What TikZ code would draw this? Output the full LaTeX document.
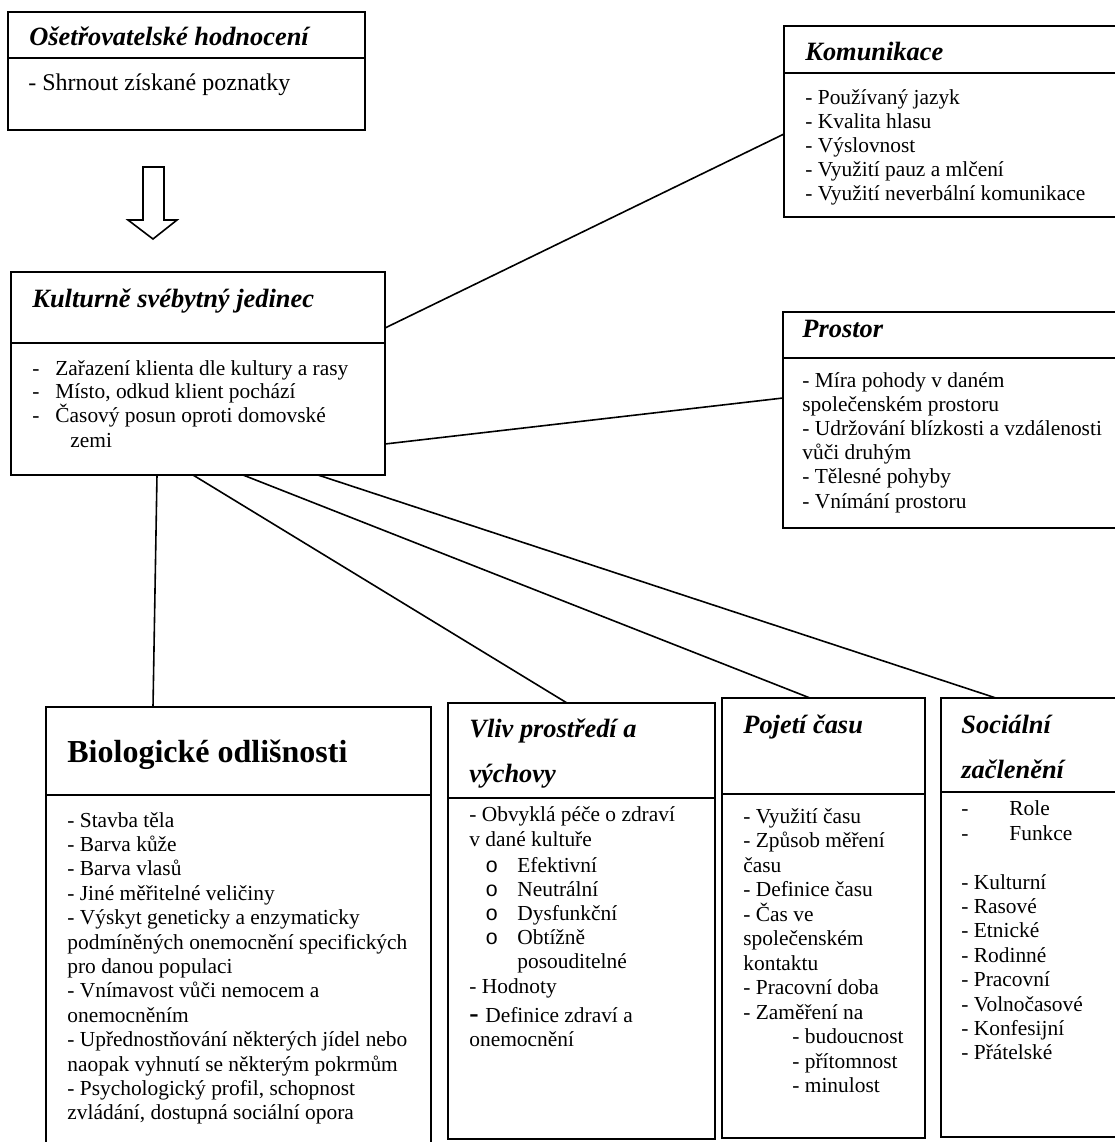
\documentclass[tikz,border=0pt]{standalone}
\usepackage{fontspec}
\setmainfont{Liberation Serif}
\newfontfamily\bulletfont{Liberation Mono}
\usetikzlibrary{calc}
\tikzset{
  box/.style={draw, line width=0.9pt, rectangle, anchor=north west, inner sep=0pt, outer sep=0pt},
  divider/.style={line width=0.9pt},
  txt/.style={anchor=base west, inner sep=0pt, font=\fontsize{10.7}{13}\selectfont},
  ttl/.style={anchor=base west, inner sep=0pt, font=\fontsize{13.2}{15}\selectfont\bfseries\itshape},
  bigttl/.style={anchor=base west, inner sep=0pt, font=\fontsize{16}{18}\selectfont\bfseries},
  link/.style={line width=0.8pt},
  blockarrow/.style={line width=0.8pt, line join=miter},
}
\begin{document}
\begin{tikzpicture}[x=0.5pt,y=-0.5pt]
\useasboundingbox (0,0) rectangle (1115,1142);
\clip (0,0) rectangle (1115,1142);

% ---------- boxes ----------
\node[box, minimum width=178.5pt, minimum height=59pt]  (oset) at (8,12) {};
\node[box, minimum width=175pt,   minimum height=95.5pt] (komu) at (784,26) {};
\node[box, minimum width=187pt,   minimum height=101.5pt] (kult) at (11,272) {};
\node[box, minimum width=175pt,   minimum height=108pt]  (pros) at (783,312) {};
\node[box, minimum width=192.5pt, minimum height=230pt]  (bio)  at (46,707) {};
\node[box, minimum width=133.5pt, minimum height=218pt]  (vliv) at (448,703) {};
\node[box, minimum width=101.5pt, minimum height=220pt]  (poj)  at (722,698) {};
\node[box, minimum width=95pt,    minimum height=219.5pt] (soc) at (941,698) {};

% ---------- dividers ----------
\draw[divider] (8,58) -- (365,58);
\draw[divider] (784,73) -- (1134,73);
\draw[divider] (11,343) -- (385,343);
\draw[divider] (783,358) -- (1133,358);
\draw[divider] (46,795) -- (431,795);
\draw[divider] (448,798) -- (715,798);
\draw[divider] (722,794) -- (925,794);
\draw[divider] (941,792) -- (1131,792);

% ---------- block arrow ----------
\draw[blockarrow] (143,167) -- (164,167) -- (164,220) -- (177,220) -- (153,239)
  -- (128,220) -- (143,220) -- cycle;

% ---------- connectors ----------
\draw[link] ($(kult.north west)+(374,56)$) -- ($(komu.north west)+(0,108)$);
\draw[link] ($(kult.north west)+(374,172)$) -- ($(pros.north west)+(0,86)$);
\draw[link] ($(kult.south west)+(146,0)$) -- ($(bio.north west)+(107,0)$);
\draw[link] ($(kult.south west)+(182,0)$) -- ($(vliv.north west)+(119,0)$);
\draw[link] ($(kult.south west)+(232,0)$) -- ($(poj.north west)+(88,0)$);
\draw[link] ($(kult.south west)+(307,0)$) -- ($(soc.north west)+(55,0)$);

% ---------- Ošetřovatelské hodnocení ----------
\node[ttl] (oset-t) at (29,45) {Ošetřovatelské hodnocení};
\node[txt, font=\fontsize{12}{14}\selectfont] (oset-1) at (28,90) {- Shrnout získané poznatky};

% ---------- Komunikace ----------
\node[ttl] (komu-t) at (805,60) {Komunikace};
\foreach \t [count=\i] in {{- Používaný jazyk},{- Kvalita hlasu},{- Výslovnost},
  {- Využití pauz a mlčení},{- Využití neverbální komunikace}}
  \node[txt] (komu-\i) at (805,{104+24.2*(\i-1)}) {\t};

% ---------- Kulturně svébytný jedinec ----------
\node[ttl] (kult-t) at (32,307) {Kulturně svébytný jedinec};
\foreach \t [count=\i] in {{Zařazení klienta dle kultury a rasy},{Místo, odkud klient pochází},
  {Časový posun oproti domovské}}
  {\node[txt] (kult-d\i) at (32,{375+23.5*(\i-1)}) {-};
   \node[txt] (kult-\i) at (55,{375+23.5*(\i-1)}) {\t};}
\node[txt] (kult-4) at (70,447) {zemi};

% ---------- Prostor ----------
\node[ttl] (pros-t) at (802,337) {Prostor};
\foreach \t [count=\i] in {{- Míra pohody v daném},{společenském prostoru},
  {- Udržování blízkosti a vzdálenosti},{vůči druhým},{- Tělesné pohyby},{- Vnímání prostoru}}
  \node[txt] (pros-\i) at (802,{387+24.2*(\i-1)}) {\t};

% ---------- Biologické odlišnosti ----------
\node[bigttl] (bio-t) at (67,762) {Biologické odlišnosti};
\foreach \t [count=\i] in {{- Stavba těla},{- Barva kůže},{- Barva vlasů},{- Jiné měřitelné veličiny},
  {- Výskyt geneticky a enzymaticky},{podmíněných onemocnění specifických},{pro danou populaci},
  {- Vnímavost vůči nemocem a},{onemocněním},{- Upřednostňování některých jídel nebo},
  {naopak vyhnutí se některým pokrmům},{- Psychologický profil, schopnost},
  {zvládání, dostupná sociální opora}}
  \node[txt] (bio-\i) at (67,{827+24.4*(\i-1)}) {\t};

% ---------- Vliv prostředí a výchovy ----------
\node[ttl] (vliv-t1) at (469,737) {Vliv prostředí a};
\node[ttl] (vliv-t2) at (469,782) {výchovy};
\node[txt] (vliv-1) at (469,821) {- Obvyklá péče o zdraví};
\node[txt] (vliv-2) at (469,846) {v dané kultuře};
\foreach \t [count=\i] in {Efektivní,Neutrální,Dysfunkční,Obtížně}
  {\node[txt, font=\fontsize{10.7}{13}\bulletfont] (vliv-o\i) at (485,{872+24*(\i-1)}) {o};
   \node[txt] (vliv-b\i) at (517,{872+24*(\i-1)}) {\t};}
\node[txt] (vliv-3) at (517,968) {posouditelné};
\node[txt] (vliv-4) at (469,993) {- Hodnoty};
\node[txt, font=\fontsize{14}{16}\selectfont\bfseries] (vliv-5d) at (469,1022) {-};
\node[txt] (vliv-5) at (485,1022) {Definice zdraví a};
\node[txt] (vliv-6) at (469,1046) {onemocnění};

% ---------- Pojetí času ----------
\node[ttl] (poj-t) at (743,733) {Pojetí času};
\foreach \t [count=\i] in {{- Využití času},{- Způsob měření},{času},{- Definice času},{- Čas ve},
  {společenském},{kontaktu},{- Pracovní doba},{- Zaměření na}}
  \node[txt] (poj-\i) at (743,{823+24.5*(\i-1)}) {\t};
\foreach \t [count=\i] in {{- budoucnost},{- přítomnost},{- minulost}}
  \node[txt] (poj-s\i) at (792,{1043.5+24.5*(\i-1)}) {\t};

% ---------- Sociální začlenění ----------
\node[ttl] (soc-t1) at (961,733) {Sociální};
\node[ttl] (soc-t2) at (961,778) {začlenění};
\node[txt] (soc-d1) at (961,815) {-};
\node[txt] (soc-r1) at (1009,815) {Role};
\node[txt] (soc-d2) at (961,840) {-};
\node[txt] (soc-r2) at (1009,840) {Funkce};
\foreach \t [count=\i] in {{- Kulturní},{- Rasové},{- Etnické},{- Rodinné},{- Pracovní},
  {- Volnočasové},{- Konfesijní},{- Přátelské}}
  \node[txt] (soc-\i) at (961,{889+24.4*(\i-1)}) {\t};
\end{tikzpicture}
\end{document}
